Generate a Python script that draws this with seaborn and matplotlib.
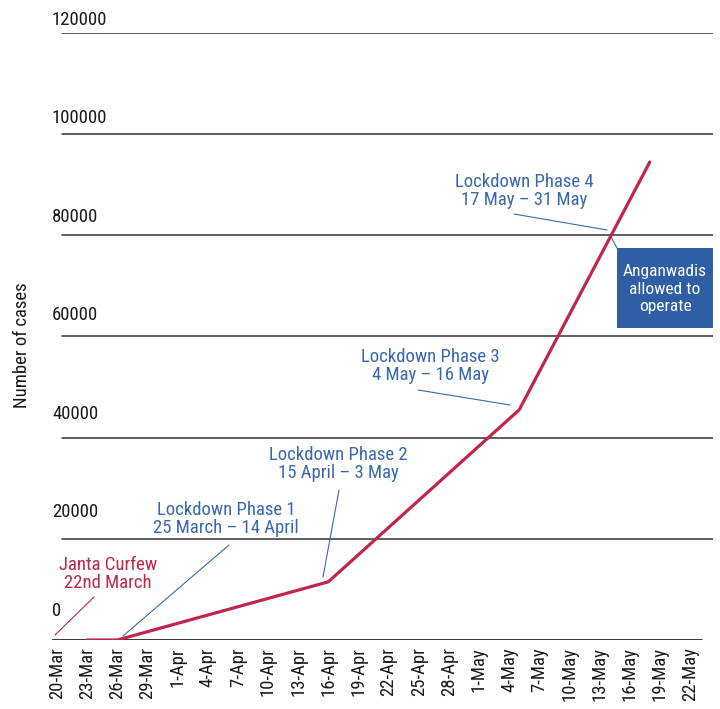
import matplotlib
matplotlib.use("Agg")
import matplotlib.pyplot as plt
import matplotlib.dates as mdates
import seaborn as sns
import pandas as pd

# ---- data ----
dates = ["2020-03-23", "2020-03-26", "2020-04-16", "2020-05-05", "2020-05-18"]
cases = [0, 0, 11500, 45500, 94500]

tick_dates = pd.date_range("2020-03-20", "2020-05-22", freq="3D")
tick_labels = [f"{d.day}-{d.strftime('%b')}" for d in tick_dates]
y_ticks = [0, 20000, 40000, 60000, 80000, 100000, 120000]
y_tick_labels = [str(v) for v in y_ticks]

annotations = [
    ("Janta Curfew\n22nd March", "red"),
    ("Lockdown Phase 1\n25 March – 14 April", "blue"),
    ("Lockdown Phase 2\n15 April – 3 May", "blue"),
    ("Lockdown Phase 3\n4 May – 16 May", "blue"),
    ("Lockdown Phase 4\n17 May – 31 May", "blue"),
]
box_text = "Anganwadis\nallowed to\noperate"
y_label = "Number of cases"

# ---- style ----
sns.set_style("white")
plt.rcParams["font.family"] = ["Roboto Condensed", "DejaVu Sans"]
FS = 13.5
plt.rcParams["font.size"] = FS

RED = "#c0264a"
BLUE = "#3a68b0"
BOXBLUE = "#2f5ea5"
TXT = "#1a1a1a"

W, H = 720, 709
fig = plt.figure(figsize=(W / 100, H / 100), dpi=100)

def fx(px):
    return px / W

def fy(py):
    return 1 - py / H

left, right, top, bottom = 52, 713, 33, 640

# label axis (y tick labels sit above their grid lines, on their own scale)
lab_top = 10
ax2 = fig.add_axes([fx(left), fy(bottom), fx(right - left), fy(lab_top) - fy(bottom)])
ax2.patch.set_visible(False)
ax2.set_xticks([])
ax2.set_yticks(y_ticks)
ax2.set_yticklabels(y_tick_labels, ha="left")
ax2.tick_params(axis="y", length=0, pad=0, labelsize=FS, colors=TXT)
ax2.set_ylim(-6294.5, 121624)
for s in ax2.spines.values():
    s.set_visible(False)

ax = fig.add_axes([fx(left), fy(bottom), fx(right - left), fy(top) - fy(bottom)])
ax.patch.set_visible(False)

df = pd.DataFrame({"date": pd.to_datetime(dates), "cases": cases})
sns.lineplot(data=df, x="date", y="cases", ax=ax, color=RED, linewidth=2.3)

px_per_day = (690 - 57) / 63.0
x0 = mdates.date2num(pd.Timestamp("2020-03-20")) - 5 / px_per_day
x1 = x0 + (right - left) / px_per_day

ax.set_xticks(mdates.date2num(tick_dates))
ax.set_xticklabels(tick_labels, rotation=90, ha="center", va="top")
ax.tick_params(axis="x", length=0, pad=5, labelsize=FS, colors=TXT)
ax.set_yticks([])
ax.set_xlabel("")
ax.set_ylabel("")
ax.set_xlim(x0, x1)
ax.set_ylim(0, 120000)
for s in ax.spines.values():
    s.set_visible(False)

# grid lines
for v in y_ticks[1:]:
    ax.axhline(v, xmin=10 / (right - left), xmax=1, color="#333333", linewidth=1.1, zorder=0)
ax.axhline(0, xmin=0, xmax=(702 - left) / (right - left), color="#000000", linewidth=1.1, zorder=0)

fig.text(fx(22), fy(345), y_label, rotation=90, ha="center", va="center", fontsize=FS, color=TXT)

# annotations: (text position center, line start, line end)
ann_geom = [
    ((108, 574), (94, 597), (55, 635)),
    ((226, 519), (229, 545), (123, 636)),
    ((338, 464), (339, 490), (323, 577)),
    ((430, 366), (418, 390), (510, 405)),
    ((524, 191), (514, 214), (607, 230)),
]
for (txt, col), (tp, ls, le) in zip(annotations, ann_geom):
    c = RED if col == "red" else BLUE
    fig.text(fx(tp[0]), fy(tp[1]), txt, ha="center", va="center", color=c,
             fontsize=FS, linespacing=0.98)
    fig.add_artist(plt.Line2D([fx(ls[0]), fx(le[0])], [fy(ls[1]), fy(le[1])],
                              color=c, linewidth=0.8, transform=fig.transFigure))

# Anganwadis box
bx0, by0, bx1, by1 = 617, 248, 713, 328
fig.add_artist(plt.Rectangle((fx(bx0), fy(by1)), fx(bx1 - bx0), fy(by0) - fy(by1),
                             facecolor=BOXBLUE, edgecolor="none", transform=fig.transFigure))
fig.text(fx((bx0 + bx1) / 2), fy((by0 + by1) / 2 + 1), box_text, ha="center", va="center",
         color="white", fontsize=12.5, linespacing=1.2)
fig.add_artist(plt.Line2D([fx(611), fx(617)], [fy(237), fy(248)], color=BLUE,
                          linewidth=0.8, transform=fig.transFigure))

fig.savefig("out.png", dpi=100)
